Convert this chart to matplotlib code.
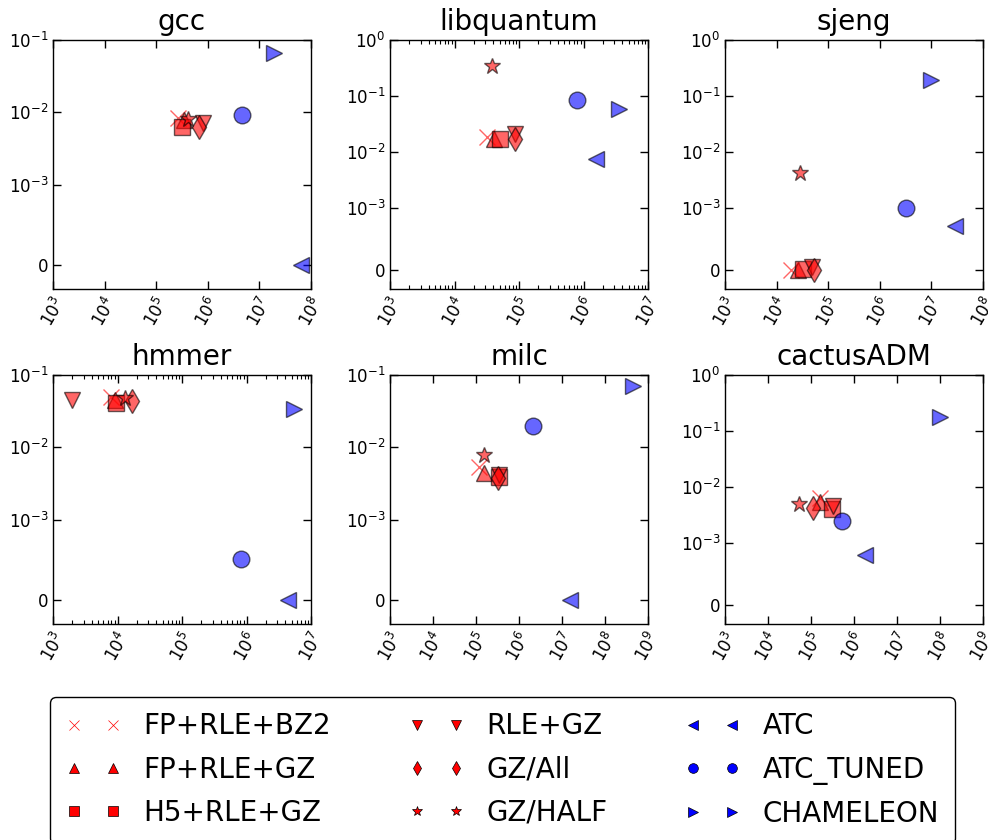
import matplotlib
matplotlib.use("Agg")
import matplotlib.pyplot as plt
from matplotlib.lines import Line2D
from matplotlib.ticker import NullLocator, LogLocator

# ---------------- data ----------------
benchmarks = ["gcc", "libquantum", "sjeng", "hmmer", "milc", "cactusADM"]
methods = ["FP+RLE+BZ2", "FP+RLE+GZ", "H5+RLE+GZ", "RLE+GZ", "GZ/All",
           "GZ/HALF", "ATC", "ATC_TUNED", "CHAMELEON"]
markers = ["x", "^", "s", "v", "d", "*", "<", "o", ">"]
colors = ["r", "r", "r", "r", "r", "r", "b", "b", "b"]

# one value per method for each benchmark
x_gcc = [2.6e5, 3.5e5, 3.2e5, 7.9e5, 6.9e5, 4.1e5, 6.5e7, 4.7e6, 1.9e7]
y_gcc = [8.3e-3, 7.8e-3, 6.2e-3, 7.0e-3, 6.2e-3, 8.0e-3, 0.0, 9.1e-3, 0.066]

x_libquantum = [3.2e4, 4.1e4, 5.1e4, 8.8e4, 8.8e4, 3.8e4, 1.55e6, 7.9e5, 3.6e6]
y_libquantum = [0.0186, 0.017, 0.017, 0.021, 0.017, 0.35, 0.0075, 0.085, 0.058]

x_sjeng = [1.9e4, 2.6e4, 3.3e4, 4.8e4, 5.4e4, 2.9e4, 2.9e7, 3.2e6, 1.0e7]
y_sjeng = [0.0, 0.0, 2e-5, 6e-5, 0.0, 4.3e-3, 7.1e-4, 1.0e-3, 0.195]

x_hmmer = [8.0e3, 9.0e3, 9.5e3, 2.0e3, 1.7e4, 1.3e4, 4.4e6, 8.3e5, 5.5e6]
y_hmmer = [0.05, 0.045, 0.041, 0.045, 0.044, 0.048, 0.0, 5.1e-4, 0.034]

x_milc = [1.2e5, 1.5e5, 3.4e5, 3.4e5, 3.3e5, 1.5e5, 1.5e7, 2.15e6, 4.4e8]
y_milc = [5.3e-3, 4.4e-3, 3.9e-3, 4.1e-3, 3.8e-3, 7.7e-3, 0.0, 0.02, 0.071]

x_cactusADM = [1.6e5, 1.6e5, 3.0e5, 3.3e5, 1.1e5, 5.4e4, 1.8e6, 5.2e5, 9.8e7]
y_cactusADM = [6.4e-3, 5.4e-3, 4.1e-3, 4.5e-3, 4.3e-3, 4.9e-3, 8.1e-4, 2.5e-3, 0.18]

x_data = [x_gcc, x_libquantum, x_sjeng, x_hmmer, x_milc, x_cactusADM]
y_data = [y_gcc, y_libquantum, y_sjeng, y_hmmer, y_milc, y_cactusADM]

x_max = [1e8, 1e7, 1e8, 1e7, 1e9, 1e9]
y_max = [1e-1, 1e0, 1e0, 1e-1, 1e-1, 1e0]

# ---------------- figure ----------------
W, H = 988, 840
fig = plt.figure(figsize=(W / 100, H / 100), dpi=100)

col_left = [53, 390, 725]
row_top = [40, 375]
ax_w, ax_h = 258, 249

for i, name in enumerate(benchmarks):
    r, c = divmod(i, 3)
    l = col_left[c] / W
    b = 1 - (row_top[r] + ax_h) / H
    ax = fig.add_axes([l, b, ax_w / W, ax_h / H])
    for j in range(len(methods)):
        mec = colors[j] if markers[j] == "x" else "k"
        ax.plot([x_data[i][j]], [y_data[i][j]], linestyle="none",
                marker=markers[j], color=colors[j], mec=mec, mew=1.0,
                markersize=12, alpha=0.6)
    ax.set_xscale("log")
    ax.set_yscale("symlog", linthresh=1e-3)
    ax.set_xlim(1e3, x_max[i])
    ax.set_ylim(-3e-4, y_max[i])
    ax.yaxis.set_minor_locator(NullLocator())
    ax.xaxis.set_major_locator(LogLocator(base=10, numticks=20))
    ax.set_title(name, fontsize=20, pad=7)
    ax.tick_params(which="both", direction="in", top=True, right=True,
                   labelsize=12, color="k")
    ax.tick_params(which="major", length=5.5, width=1)
    ax.tick_params(which="minor", length=2.8, width=0.8)
    for lab in ax.get_xticklabels():
        lab.set_rotation(60)
    for sp in ax.spines.values():
        sp.set_linewidth(1.0)

# legend with small opaque proxy markers
handles = []
for j in range(len(methods)):
    mec = colors[j] if markers[j] == "x" else "k"
    handles.append(Line2D([0], [0], linestyle="none", marker=markers[j],
                          color=colors[j], mec=mec, mew=0.5, markersize=7))

leg = fig.legend(handles, methods, ncol=3, numpoints=2, loc="upper left",
                 bbox_to_anchor=(50 / W, 1 - 697 / H),
                 fontsize=20, handlelength=2.0, handletextpad=0.8,
                 columnspacing=2.8, labelspacing=0.55, borderpad=0.55,
                 fancybox=True, borderaxespad=0.0,
                 framealpha=1.0, edgecolor="k")
leg.get_frame().set_linewidth(1.0)

fig.savefig("out.png", dpi=100)
